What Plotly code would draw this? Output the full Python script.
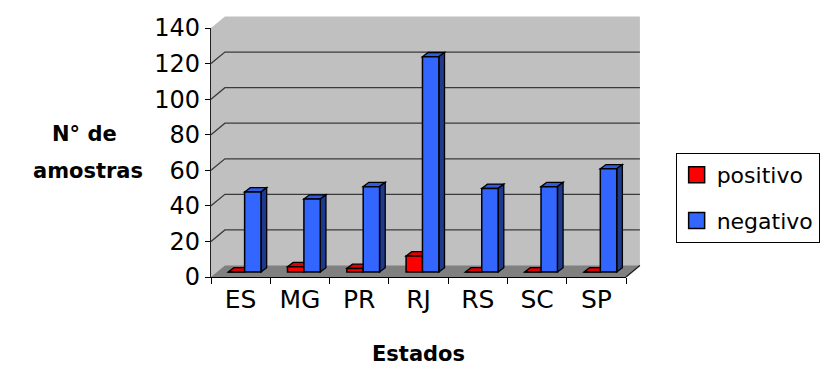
import plotly.graph_objects as go

# ---- data ----
estados = ["ES", "MG", "PR", "RJ", "RS", "SC", "SP"]
positivo = [0, 3, 2, 9, 0, 0, 0]
negativo = [45, 41, 48, 121, 47, 48, 58]
y_ticks = [0, 20, 40, 60, 80, 100, 120, 140]
series_names = ["positivo", "negativo"]

# ---- style / layout constants ----
W, H = 832, 369
PX_L, PX_R, PX_T, PX_B = 211, 629, 28, 277
PW, PH = PX_R - PX_L, PX_B - PX_T
YMAX = 140
DEPTH_X, DEPTH_Y = 14, 11.5          # back-wall offset (px)
BAR_DX, BAR_DY = 5.7, 4.3            # bar depth (px)
SHIFT_X, SHIFT_Y = 4, 5              # bars sit mid-floor (px)
BARGAP = 0.447
RED, BLUE = "#FF0000", "#3366FF"
RED_TOP, RED_SIDE = "#E00000", "#8C0000"
BLUE_TOP, BLUE_SIDE = "#2E5BE0", "#1F3A8C"
FONT = "DejaVu Sans"

n = len(estados)
idx = list(range(n))
ux = n / PW          # x data units per px
uy = YMAX / PH       # y data units per px


def px(x):
    return (x - PX_L) / PW


def py(y):
    return (PX_B - y) / PH


fig = go.Figure()

# bars (front faces) on shifted overlay axes
fig.add_trace(go.Bar(x=idx, y=positivo, name=series_names[0], xaxis="x2", yaxis="y2",
                     marker=dict(color=RED, line=dict(color="black", width=1.5)),
                     showlegend=False, hoverinfo="skip"))
fig.add_trace(go.Bar(x=idx, y=negativo, name=series_names[1], xaxis="x2", yaxis="y2",
                     marker=dict(color=BLUE, line=dict(color="black", width=1.5)),
                     showlegend=False, hoverinfo="skip"))

# legend entries
for nm, col, grp in [(series_names[0], RED, "a"), (series_names[1], BLUE, "b")]:
    fig.add_trace(go.Scatter(x=[None], y=[None], mode="markers", name=nm, legendgroup=grp,
                             marker=dict(symbol="square", size=16, color=col,
                                         line=dict(color="black", width=1.5))))

shapes = []
# walls
wall = (f"M{px(PX_L)},{py(PX_B)} L{px(PX_L)},{py(PX_T)} "
        f"L{px(PX_L + DEPTH_X)},{py(PX_T - DEPTH_Y)} L{px(PX_R + DEPTH_X)},{py(PX_T - DEPTH_Y)} "
        f"L{px(PX_R + DEPTH_X)},{py(PX_B - DEPTH_Y)} L{px(PX_R)},{py(PX_B)} Z")
shapes.append(dict(type="path", xref="paper", yref="paper", path=wall,
                   fillcolor="#C0C0C0", line=dict(width=0), layer="below"))
floor = (f"M{px(PX_L)},{py(PX_B)} L{px(PX_L + DEPTH_X)},{py(PX_B - DEPTH_Y)} "
         f"L{px(PX_R + DEPTH_X)},{py(PX_B - DEPTH_Y)} L{px(PX_R)},{py(PX_B)} Z")
shapes.append(dict(type="path", xref="paper", yref="paper", path=floor,
                   fillcolor="#808080", line=dict(width=0), layer="below"))
# back-wall gridlines with diagonal connectors
for v in y_ticks[1:-1]:
    yf = PX_B - v / uy
    p = (f"M{px(PX_L)},{py(yf)} L{px(PX_L + DEPTH_X)},{py(yf - DEPTH_Y)} "
         f"L{px(PX_R + DEPTH_X)},{py(yf - DEPTH_Y)}")
    shapes.append(dict(type="path", xref="paper", yref="paper", path=p,
                       line=dict(color="#3A3A3A", width=1.3), layer="below"))
# floor right edge
shapes.append(dict(type="line", xref="paper", yref="paper",
                   x0=px(PX_R), y0=py(PX_B), x1=px(PX_R + DEPTH_X), y1=py(PX_B - DEPTH_Y),
                   line=dict(color="#202020", width=1.3), layer="below"))

# 3D faces of bars (computed from the values through the data scale)
bw = (1 - BARGAP) / 2
dx, dy = BAR_DX * ux, BAR_DY * uy
for i in idx:
    for k, (vals, top, side) in enumerate([(positivo, RED_TOP, RED_SIDE), (negativo, BLUE_TOP, BLUE_SIDE)]):
        v = vals[i]
        L = i - bw + k * bw
        R = L + bw
        topp = f"M{L},{v} L{L + dx},{v + dy} L{R + dx},{v + dy} L{R},{v} Z"
        shapes.append(dict(type="path", xref="x2", yref="y2", path=topp, fillcolor=top,
                           line=dict(color="black", width=1.3), layer="below"))
        if k == 1:
            sidep = f"M{R},0 L{R + dx},{dy} L{R + dx},{v + dy} L{R},{v} Z"
            shapes.append(dict(type="path", xref="x2", yref="y2", path=sidep, fillcolor=side,
                               line=dict(color="black", width=1.3), layer="below"))

sx = SHIFT_X * ux
sy = SHIFT_Y * uy

fig.update_layout(
    width=W, height=H, autosize=False,
    margin=dict(l=PX_L, r=W - PX_R, t=PX_T, b=H - PX_B, pad=0),
    paper_bgcolor="white", plot_bgcolor="rgba(0,0,0,0)",
    font=dict(family=FONT, color="black"),
    barmode="group", bargap=BARGAP, bargroupgap=0,
    shapes=shapes,
    xaxis=dict(range=[-0.5, n - 0.5], tickmode="array", tickvals=idx, ticktext=estados,
               showline=True, linecolor="black", linewidth=1.3, ticks="",
               showgrid=False, zeroline=False, tickfont=dict(size=25),
               minor=dict(tickmode="array", tickvals=[i - 0.5 for i in range(n + 1)],
                          ticks="outside", ticklen=6, tickcolor="black", tickwidth=1.3,
                          showgrid=False)),
    yaxis=dict(range=[0, YMAX], tickmode="array", tickvals=y_ticks,
               showline=True, linecolor="#202020", linewidth=1.3, ticks="outside",
               ticklen=5, tickcolor="black", tickwidth=1.3,
               showgrid=False, zeroline=False, tickfont=dict(size=24)),
    xaxis2=dict(overlaying="x", range=[-0.5 - sx, n - 0.5 - sx], visible=False,
                showgrid=False, zeroline=False),
    yaxis2=dict(overlaying="y", range=[-sy, YMAX - sy], visible=False,
                showgrid=False, zeroline=False),
    legend=dict(x=px(679), y=py(153), xanchor="left", yanchor="top",
                bordercolor="black", borderwidth=1, bgcolor="white",
                font=dict(size=22), tracegroupgap=14, traceorder="grouped",
                itemwidth=30),
    annotations=[
        dict(text="<b>N° de</b>", xref="paper", yref="paper", x=px(84), y=py(134),
             xanchor="center", yanchor="middle", showarrow=False, font=dict(size=21)),
        dict(text="<b>amostras</b>", xref="paper", yref="paper", x=px(87), y=py(171),
             xanchor="center", yanchor="middle", showarrow=False, font=dict(size=21)),
        dict(text="<b>Estados</b>", xref="paper", yref="paper", x=px(420), y=py(354),
             xanchor="center", yanchor="middle", showarrow=False, font=dict(size=21)),
    ],
)

fig.write_html("out.html")
